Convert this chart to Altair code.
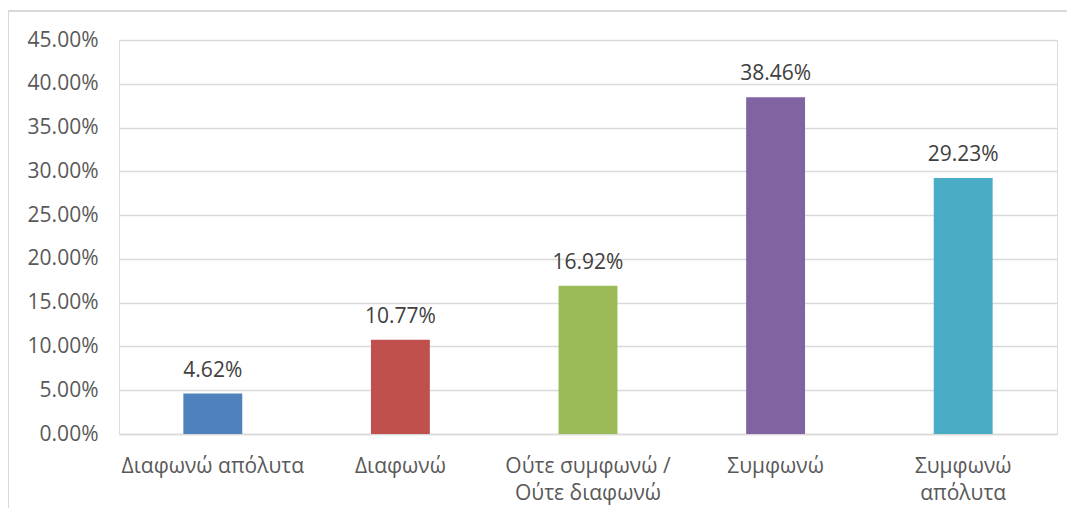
import altair as alt
import pandas as pd

categories = ["Διαφωνώ απόλυτα", "Διαφωνώ", "Ούτε συμφωνώ /\nΟύτε διαφωνώ", "Συμφωνώ", "Συμφωνώ\nαπόλυτα"]
values = [0.0462, 0.1077, 0.1692, 0.3846, 0.2923]
colors = ["#4F81BD", "#C0504D", "#9BBB59", "#8064A2", "#4BACC6"]
y_ticks = [0, 0.05, 0.10, 0.15, 0.20, 0.25, 0.30, 0.35, 0.40, 0.45]

df = pd.DataFrame({"cat": categories, "val": values, "color": colors})

FONT = "Open Sans"
FS = 21

x_enc = alt.X(
    "cat:N",
    sort=categories,
    scale=alt.Scale(paddingInner=0.686, paddingOuter=0.343),
    axis=alt.Axis(
        title=None,
        labelAngle=0,
        labelFont=FONT,
        labelFontSize=FS,
        labelColor="#595959",
        labelPadding=21,
        labelLineHeight=27,
        labelExpr="split(datum.label, '\\n')",
        ticks=False,
        domainColor="#d9d9d9",
        domainWidth=1.5,
        labelLimit=300,
    ),
)
y_enc = alt.Y(
    "val:Q",
    scale=alt.Scale(domain=[0, 0.45], nice=False),
    axis=alt.Axis(
        title=None,
        values=y_ticks,
        format=".2%",
        labelFont=FONT,
        labelFontSize=FS,
        labelColor="#595959",
        labelPadding=21,
        ticks=False,
        domain=False,
        gridColor="#d9d9d9",
        gridWidth=1.5,
    ),
)

bars = alt.Chart(df).mark_bar().encode(
    x=x_enc,
    y=y_enc,
    color=alt.Color("color:N", scale=None, legend=None),
)

labels = alt.Chart(df).mark_text(
    font=FONT, fontSize=FS, color="#404040", baseline="alphabetic", dy=-17
).encode(
    x=alt.X("cat:N", sort=categories),
    y="val:Q",
    text=alt.Text("val:Q", format=".2%"),
)

frame_left = alt.Chart(df).mark_rule(color="#d9d9d9", strokeWidth=2, clip=False).encode(
    x=alt.value(-111), y=alt.value(-29), y2=alt.value(500)
)
frame_top = alt.Chart(df).mark_rule(color="#d9d9d9", strokeWidth=2, clip=False).encode(
    x=alt.value(-111), x2=alt.value(1100), y=alt.value(-29)
)

chart = alt.layer(frame_left, frame_top, bars, labels).properties(
    width=938,
    height=394,
    autosize=alt.AutoSizeParams(type="none"),
    padding={"left": 111, "top": 32, "right": 10, "bottom": 74},
).configure_view(stroke=None).configure(background="white")

chart.save("out.html", embed_options={"renderer": "svg", "actions": False})
